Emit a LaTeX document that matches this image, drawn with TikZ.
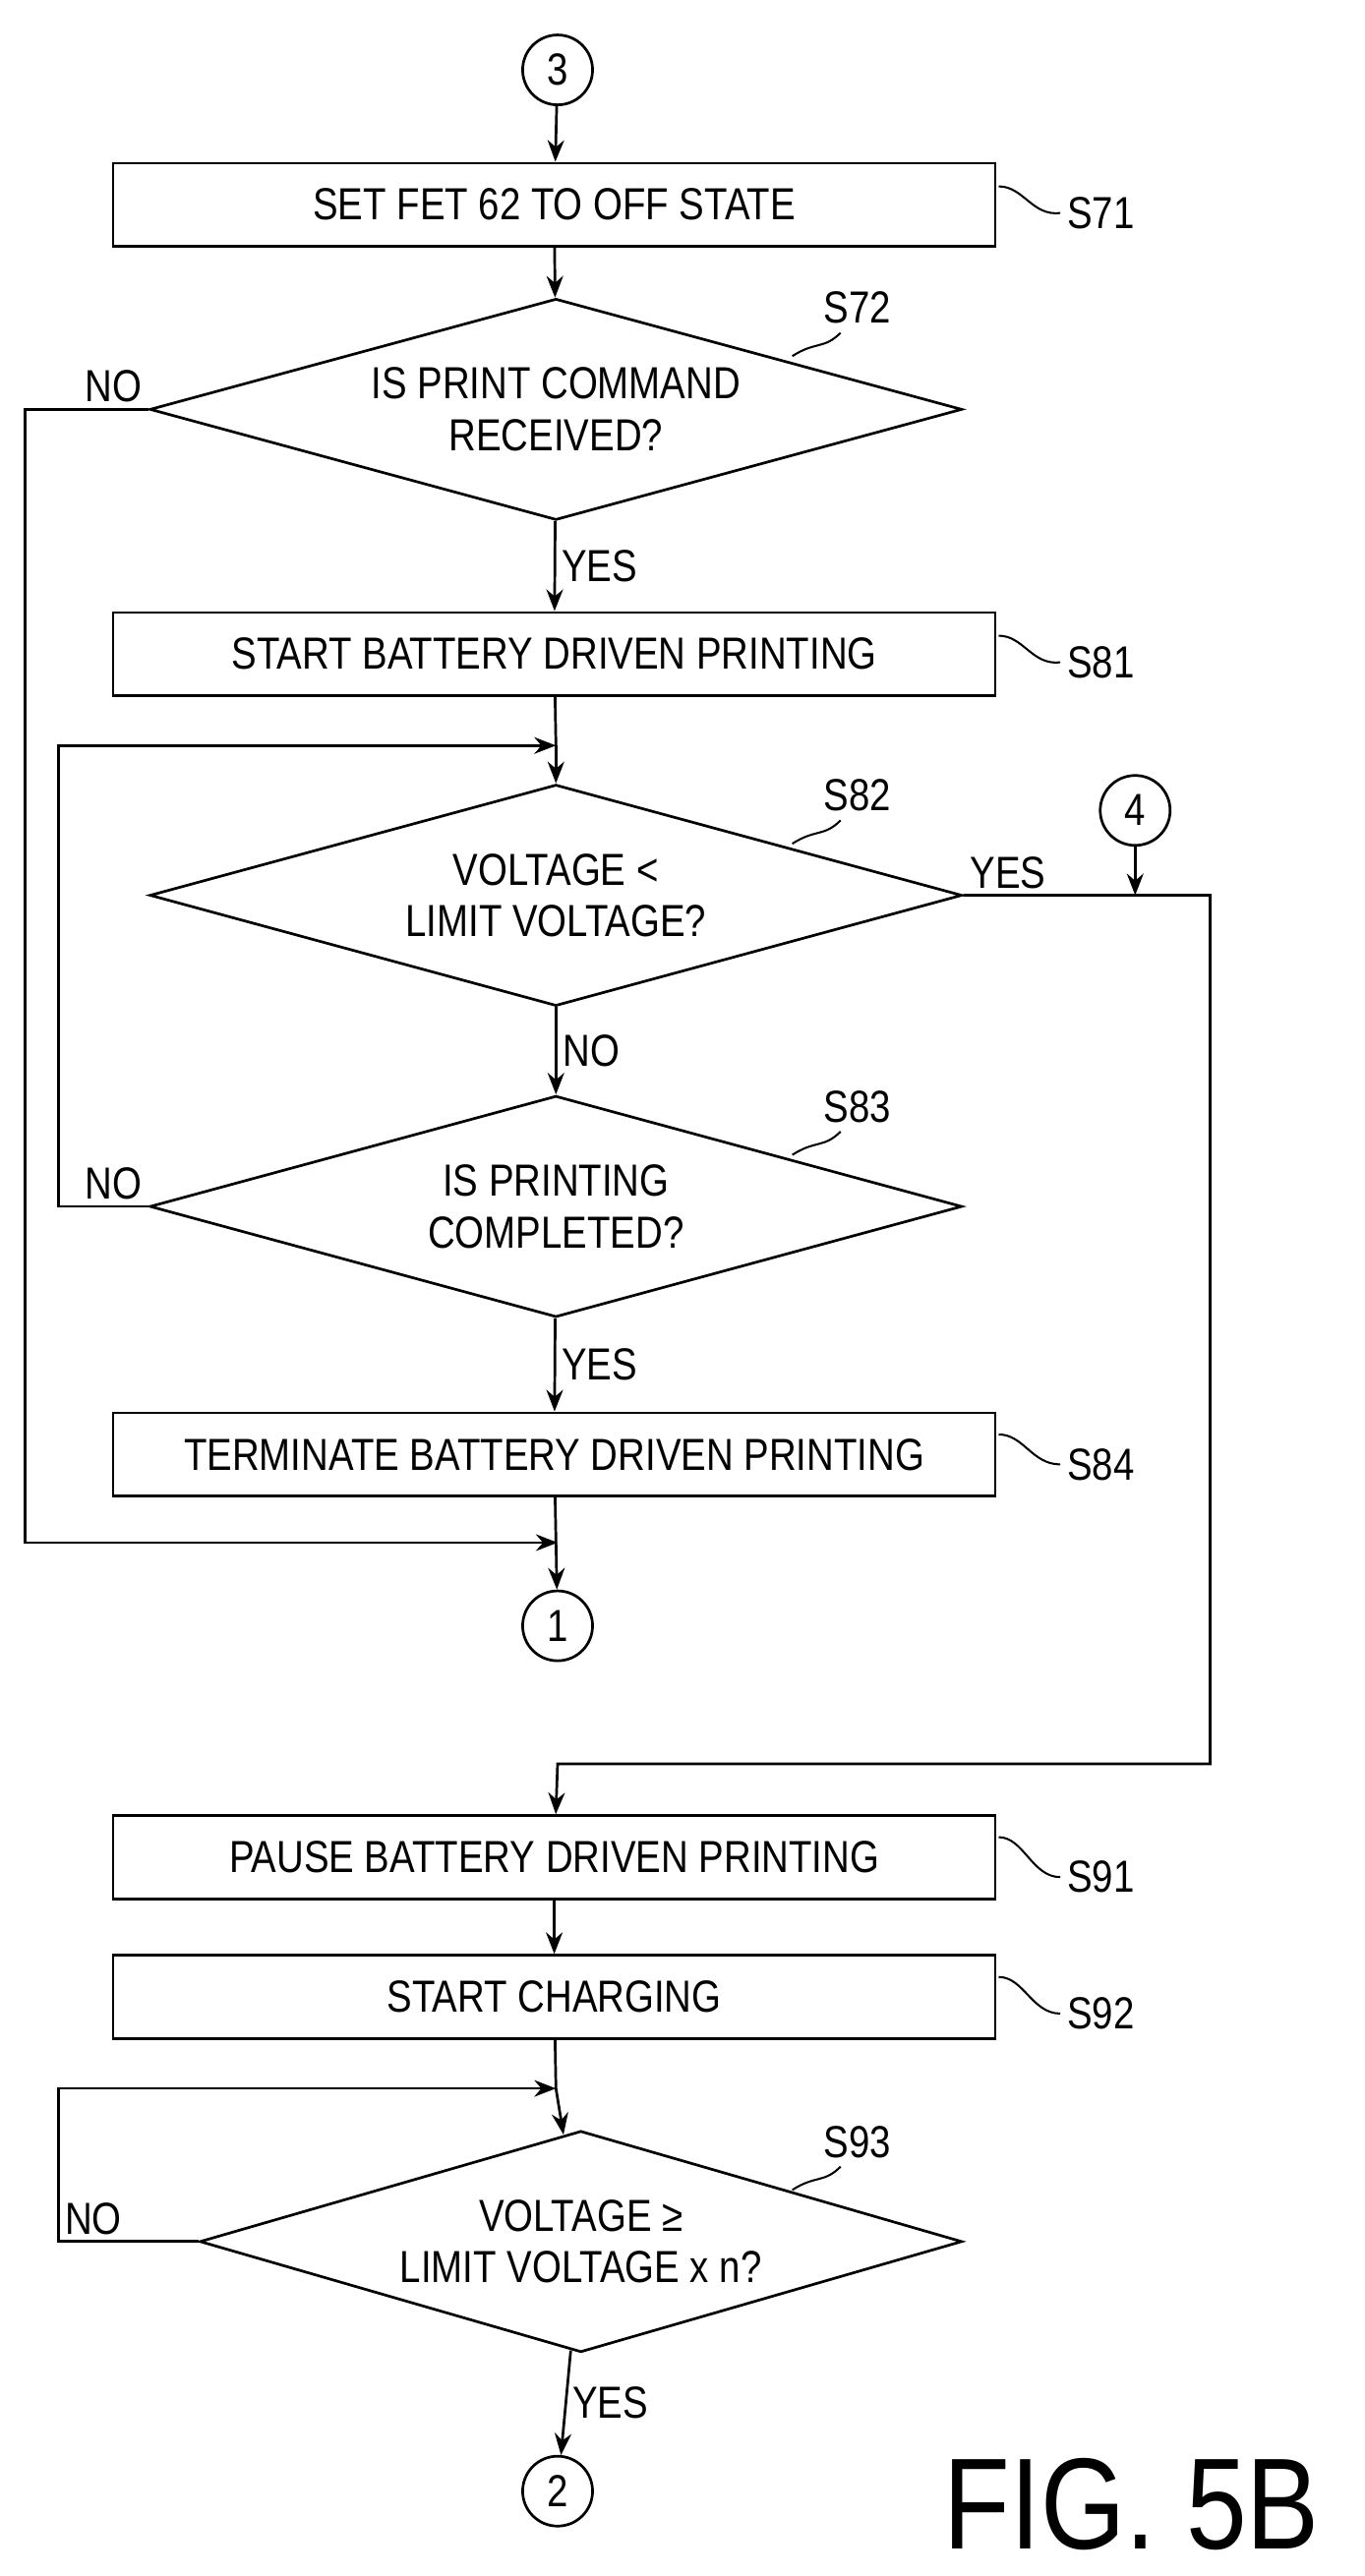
\documentclass[tikz,border=0pt]{standalone}
\usepackage{fontspec}
\setmainfont{Liberation Sans}[FakeStretch=0.84]
\usetikzlibrary{shapes.geometric,arrows.meta}
\begin{document}
\begin{tikzpicture}[x=1pt,y=-1pt, line width = 1.6pt, font=\fontsize{27}{31}\selectfont,
  box/.style = {draw, minimum width=530, minimum height=50, inner sep=0},
  dec/.style = {draw, diamond, aspect=3.7, minimum width=488, minimum height=133, inner sep=0, align=center},
  con/.style = {draw, circle, minimum size=42, inner sep=0},
  arr/.style = {-{Stealth[length=13, width=10]}},
  steplabel/.style = {anchor=west}]
\useasboundingbox (0,0) rectangle (820,1548);
\node[con] (c3) at (335,42) {3};
\node[box] (s71) at (333,123) {SET FET 62 TO OFF STATE};
\node[dec] (s72) at (334,246) {IS PRINT COMMAND\\RECEIVED?};
\node[box] (s81) at (333,393) {START BATTERY DRIVEN PRINTING};
\coordinate (m1) at (334,448);
\node[dec] (s82) at (334,538) {VOLTAGE <\\LIMIT VOLTAGE?};
\node[dec] (s83) at (334,725) {IS PRINTING\\COMPLETED?};
\node[box] (s84) at (333,874) {TERMINATE BATTERY DRIVEN PRINTING};
\node[con] (c1) at (335,977) {1};
\node[con] (c4) at (682,487) {4};
\node[box] (s91) at (333,1116) {PAUSE BATTERY DRIVEN PRINTING};
\node[box] (s92) at (333,1200) {START CHARGING};
\coordinate (m2) at (334,1255);
\node[dec, minimum width=458] (s93) at (349,1347) {VOLTAGE ≥\\LIMIT VOLTAGE x n?};
\node[con] (c2) at (335,1497) {2};
% step labels
\foreach \n/\y in {S71/128, S81/398, S84/880, S91/1128, S92/1210}
  \node[steplabel] at (637,\y) {\n};
\foreach \n/\y in {S72/185, S82/478, S83/665, S93/1287}
  \node at (515,\y) {\n};
\draw[line width=1.2pt] (600,112) .. controls (615,112) and (620,130) .. (637,128);
\draw[line width=1.2pt] (600,382) .. controls (615,382) and (620,400) .. (637,398);
\draw[line width=1.2pt] (600,862) .. controls (615,862) and (620,880) .. (637,880);
\draw[line width=1.2pt] (600,1104) .. controls (615,1104) and (620,1128) .. (637,1128);
\draw[line width=1.2pt] (600,1188) .. controls (615,1188) and (620,1210) .. (637,1210);
\draw[line width=1.2pt] (476,214) .. controls (490,205) and (495,210) .. (505,200);
\draw[line width=1.2pt] (476,507) .. controls (490,498) and (495,503) .. (505,493);
\draw[line width=1.2pt] (476,694) .. controls (490,685) and (495,690) .. (505,680);
\draw[line width=1.2pt] (476,1316) .. controls (490,1307) and (495,1312) .. (505,1302);
% flow
\draw[arr] (c3) -- (s71);
\draw[arr] (s71) -- (s72);
\draw[arr] (s72) -- node[right] {YES} (s81);
\draw (s81) -- (m1);
\draw[arr] (m1) -- (s82);
\draw[arr] (s82) -- node[right] {NO} (s83);
\draw[arr] (s83) -- node[right] {YES} (s84);
\draw[arr] (s84) -- (c1);
\draw[arr] (s72.west) node[anchor=south east] {NO} -| (15,927) -- (335,927);
\draw[arr] (s83.west) node[anchor=south east] {NO} -| (35,448) -- (m1);
\draw[arr] (s82.east) node[anchor=south west] {YES} -- (727,538) |- (335,1060) -- (s91);
\draw[arr] (c4) -- (682,538);
\draw[arr] (s91) -- (s92);
\draw (s92) -- (m2);
\draw[arr] (m2) -- (s93);
\draw[arr] (s93.west) -- (35,1347) node[anchor=south west] {NO} |- (m2);
\draw[arr] (s93) -- node[right] {YES} (c2);
\node at (680,1505) {\fontsize{78}{80}\selectfont FIG. 5B};
\end{tikzpicture}
\end{document}
